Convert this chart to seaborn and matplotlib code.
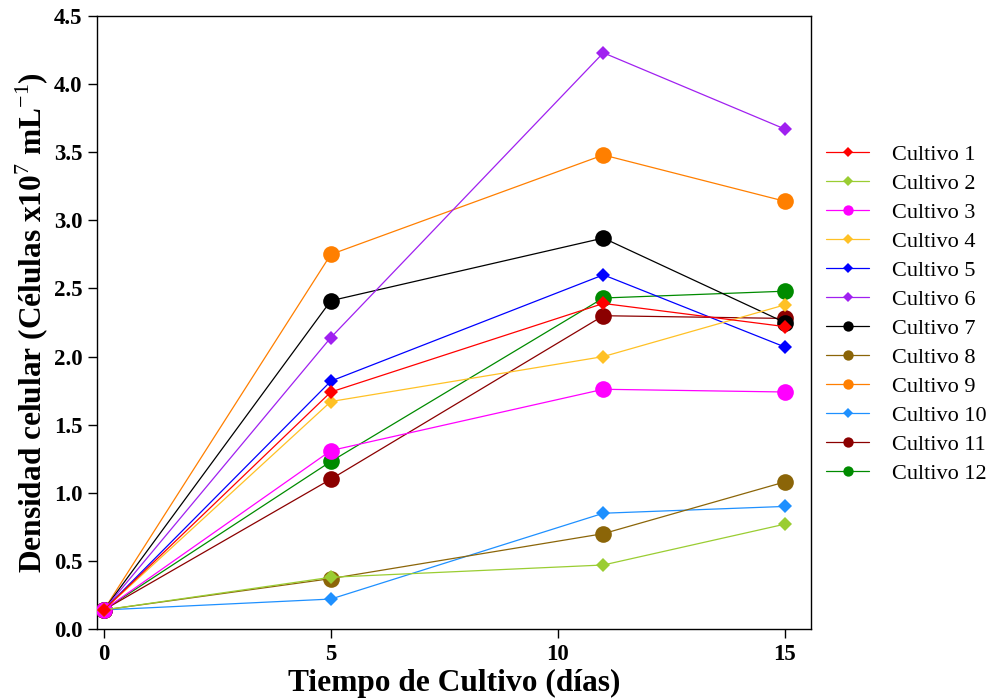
import numpy as np
import pandas as pd
import matplotlib
matplotlib.use("Agg")
import matplotlib.pyplot as plt
import seaborn as sns

# Datos
dias = [0, 5, 11, 15]
cultivo_1 = [0.14, 1.74, 2.39, 2.22]
cultivo_2 = [0.14, 0.38, 0.47, 0.77]
cultivo_3 = [0.14, 1.31, 1.76, 1.74]
cultivo_4 = [0.14, 1.67, 2.00, 2.38]
cultivo_5 = [0.14, 1.82, 2.60, 2.07]
cultivo_6 = [0.14, 2.14, 4.23, 3.67]
cultivo_7 = [0.14, 2.41, 2.87, 2.25]
cultivo_8 = [0.14, 0.37, 0.70, 1.08]
cultivo_9 = [0.14, 2.75, 3.48, 3.14]
cultivo_10 = [0.14, 0.22, 0.85, 0.90]
cultivo_11 = [0.14, 1.10, 2.30, 2.28]
cultivo_12 = [0.14, 1.23, 2.43, 2.48]

nombres = ["Cultivo %d" % i for i in range(1, 13)]
series = [cultivo_1, cultivo_2, cultivo_3, cultivo_4, cultivo_5, cultivo_6,
          cultivo_7, cultivo_8, cultivo_9, cultivo_10, cultivo_11, cultivo_12]
colores = ["#FF0000", "#9ACD32", "#FF00FF", "#FFC125", "#0000FF", "#A020F0",
           "#000000", "#8B6508", "#FF7F00", "#1E90FF", "#8B0000", "#008B00"]
marcadores = ["D", "D", "o", "D", "D", "D", "o", "o", "o", "D", "o", "o"]

df = pd.DataFrame({
    "dia": dias * 12,
    "densidad": np.concatenate(series),
    "cultivo": np.repeat(nombres, len(dias)),
})

sns.set_style("ticks")
plt.rcParams['font.family'] = ['Liberation Serif', 'DejaVu Serif']
plt.rcParams['mathtext.fontset'] = 'custom'
plt.rcParams['mathtext.rm'] = 'Liberation Serif'
plt.rcParams['mathtext.bf'] = 'Liberation Serif:bold'
for k in ['text.color', 'axes.labelcolor', 'xtick.color', 'ytick.color', 'axes.edgecolor']:
    plt.rcParams[k] = 'black'

fig = plt.figure(figsize=(9.97, 7.0), dpi=100)
ax = fig.add_axes([0.0973, 0.1014, 0.716, 0.8757])

# dibujar en orden inverso para que el cultivo 1 quede encima
for i in reversed(range(12)):
    sub = df[df["cultivo"] == nombres[i]]
    ms = 12 if marcadores[i] == "o" else 7.4
    sns.lineplot(data=sub, x="dia", y="densidad", ax=ax, color=colores[i],
                 marker=marcadores[i], markersize=ms, markeredgewidth=0,
                 linewidth=0.9, label=nombres[i], zorder=3 + (12 - i))

ax.set_xlim(-0.15, 15.57)
ax.set_ylim(0, 4.5)
ax.set_xticks([0, 5, 10, 15])
ax.set_yticks(np.arange(0, 4.51, 0.5))
ax.yaxis.set_major_formatter(matplotlib.ticker.FormatStrFormatter('%.1f'))
ax.tick_params(axis='both', labelsize=16.5, length=6.5, width=1, direction='out', pad=4)
for lab in ax.get_xticklabels() + ax.get_yticklabels():
    lab.set_fontweight('bold')
for s in ax.spines.values():
    s.set_linewidth(1)
    s.set_color('black')

ax.set_xlabel("Tiempo de Cultivo (días)", fontsize=22.6, fontweight='bold', labelpad=3)
ax.set_ylabel(r"Densidad celular (Células x10$^{7}$ mL$^{-1}$)",
              fontsize=22.6, fontweight='bold', labelpad=2)

handles, labels = ax.get_legend_handles_labels()
orden = sorted(range(len(labels)), key=lambda k: int(labels[k].split()[1]))
ax.legend([handles[k] for k in orden], [labels[k] for k in orden],
          loc='center left', bbox_to_anchor=(1.0, 0.514), frameon=False,
          borderaxespad=0.3, fontsize=16, handlelength=1.9, labelspacing=0.38,
          markerscale=0.62, handletextpad=1.05)

fig.savefig("out.png", dpi=100)
